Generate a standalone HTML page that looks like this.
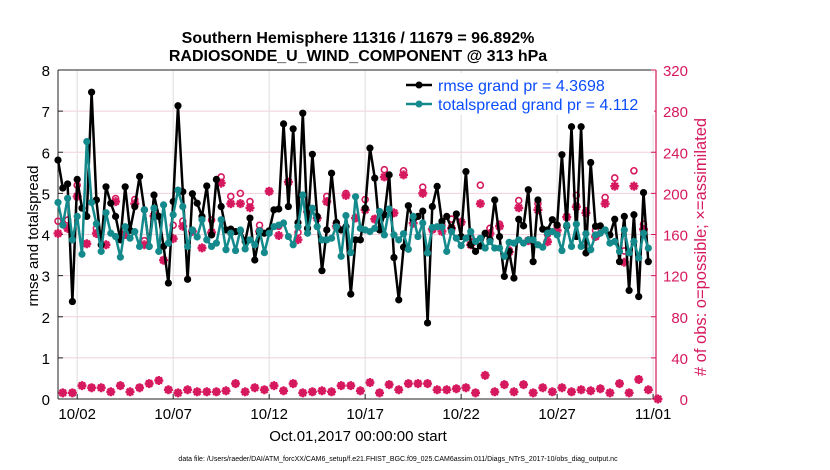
<!DOCTYPE html>
<html><head><meta charset="utf-8">
<style>
html,body{margin:0;padding:0;background:#fff;}
svg{display:block;font-family:"Liberation Sans",Arial,sans-serif;}
</style></head>
<body>
<svg id="chart" width="830" height="470" viewBox="0 0 830 470" xmlns="http://www.w3.org/2000/svg">
<rect width="830" height="470" fill="#fff"/>
<text x="358" y="43" text-anchor="middle" font-size="16" font-weight="bold">Southern Hemisphere 11316 / 11679 = 96.892%</text>
<text x="358" y="61" text-anchor="middle" font-size="16" font-weight="bold">RADIOSONDE_U_WIND_COMPONENT @ 313 hPa</text>
<g id="grid"></g>
<g id="axes"></g>
<g id="marks"></g>
<text transform="translate(38,236) rotate(-90)" text-anchor="middle" font-size="15">rmse and totalspread</text>
<text transform="translate(706,247) rotate(-90)" text-anchor="middle" font-size="16.5" fill="#d6185e"># of obs: o=possible; ×=assimilated</text>
<text x="358" y="441" text-anchor="middle" font-size="15">Oct.01,2017 00:00:00 start</text>
<text x="398" y="461" text-anchor="middle" font-size="7">data file: /Users/raeder/DAI/ATM_forcXX/CAM6_setup/f.e21.FHIST_BGC.f09_025.CAM6assim.011/Diags_NTrS_2017-10/obs_diag_output.nc</text>
<g>
<rect x="400" y="73" width="254" height="42" fill="#fff"/>
<line x1="406" y1="85" x2="432" y2="85" stroke="#000" stroke-width="2.5"/>
<circle cx="419" cy="85" r="3.5" fill="#000"/>
<text x="438" y="91" font-size="16" fill="#0a4dff">rmse grand pr = 4.3698</text>
<line x1="406" y1="104" x2="432" y2="104" stroke="#148a8c" stroke-width="2.5"/>
<circle cx="419" cy="104" r="3.5" fill="#148a8c"/>
<text x="438" y="110" font-size="16" fill="#0a4dff">totalspread grand pr = 4.112</text>
</g>
</svg>
<script>
const rmse = [5.81,5.13,5.23,2.37,5.34,4.64,4.44,7.46,4.84,3.75,5.16,4.76,4.44,3.87,5.16,4.1,4.68,5.41,4.6,3.71,4.96,4.44,3.71,2.82,4.8,7.13,5.04,2.91,4.99,4.76,4.44,5.18,
3.99,5.34,4.68,4.11,4.13,4.07,4.09,3.83,4.4,3.38,4.03,4.03,4.09,4.6,4.62,6.69,4.68,6.57,4.29,6.95,4.15,5.95,4.44,3.12,4.11,5.49,4.29,4.11,4.19,2.55,3.87,
3.87,4.64,6.1,5.37,4.11,4.48,5.45,3.44,2.41,3.69,4.7,4.36,4.44,4.57,1.85,4.68,5.17,4.32,4.44,4.15,4.5,3.95,5.53,3.75,3.59,3.72,4.03,3.87,4.84,3.95,2.98,
3.59,2.94,4.37,4.21,5.09,3.34,4.84,4.13,4.11,4.36,4.23,5.94,4.2,6.62,3.95,6.62,3.55,5.75,4.2,4.21,4.11,3.99,4.37,3.34,4.44,2.64,4.48,2.49,5.02,3.34];
const spread = [4.78,4.23,4.88,3.87,4.44,3.52,6.26,4.78,4.26,3.59,4.53,4.03,3.95,3.45,4.19,3.91,4.07,3.71,4.6,3.71,4.64,3.59,4.72,3.79,4.48,5.08,4.68,3.71,4.11,3.94,4.36,3.87,
3.71,3.79,4.36,3.63,4.03,3.61,4.11,3.65,3.87,3.75,4.09,3.56,4.03,4.19,4.23,4.28,3.95,3.75,4.19,4.96,4.03,4.64,4.19,3.87,3.87,3.91,4.19,3.47,4.46,3.56,4.92,
4.15,4.11,4.07,4.15,4.56,3.99,4.62,3.99,3.87,4.02,3.64,4.44,3.95,4.28,3.55,4.17,4.19,4.18,3.59,4.07,3.91,3.73,3.91,4.07,3.83,3.91,3.67,3.83,3.67,3.67,3.47,
3.81,3.79,3.87,3.79,3.87,3.87,3.75,3.69,4.03,4.07,3.99,3.61,4.23,3.71,4.25,3.71,4.02,3.63,3.99,4.03,4.11,3.79,3.83,3.59,4.11,3.55,3.83,3.43,4.03,3.67];
const obsUsed = [161,166,197,151,161,150,192,160,190,150,178,135,156,168,163,147,
162,210,190,190,186,163,202,159,211,155,182,176,192,168,198,176,
184,175,216,181,218,171,200,165,163,166,172,150,190,161,168,
143,186,154,184,153,164,177,187,181,158,190,207,133,207,165];
const obsPossible = [173,174,208,151,166,150,195,160,194,154,178,135,169,173,164,147,
174,216,197,200,192,169,202,168,211,162,182,176,197,171,200,176,
194,175,223,181,222,176,206,165,169,175,172,158,208,166,170,
145,193,154,190,160,169,177,198,183,164,196,215,144,222,170];
const obsOff = [6,6,13,11,11,7,13,7,11,15,18,9,6,9,7,7,
7,8,15,7,11,9,13,8,15,6,7,8,7,13,13,
8,16,6,14,9,15,15,15,9,9,10,11,6,23,7,14,
7,14,6,11,7,11,7,9,8,10,6,15,6,19,9,0];
const xTickLabels = ["10/02","10/07","10/12","10/17","10/22","10/27","11/01"];
const xTickDays = [1,6,11,16,21,26,31];
const yLeftTicks = [0,1,2,3,4,5,6,7,8];
const yRightTicks = [0,40,80,120,160,200,240,280,320];

const NS="http://www.w3.org/2000/svg";
const X0=58, X1=656, Y0=399, Y1=70, DMAX=31.15;
const xS = d => X0 + d/DMAX*(X1-X0);
const yL = v => Y0 - v/8*(Y0-Y1);
const yR = v => Y0 - v/320*(Y0-Y1);
const PINK="#d6185e", TEAL="#148a8c";
function mk(tag, attrs, parent){const e=document.createElementNS(NS,tag);for(const k in attrs)e.setAttribute(k,attrs[k]);parent.appendChild(e);return e;}
const grid=document.getElementById('grid'), axes=document.getElementById('axes'), marks=document.getElementById('marks');

yRightTicks.forEach(v=>{
  const g=mk('line',{x1:X0,x2:X1,y1:yR(v),y2:yR(v),stroke:'#f2cfdc','stroke-width':1},grid);
  
  
});
xTickDays.forEach(d=>{
  const g=mk('line',{x1:xS(d),x2:xS(d),y1:Y1,y2:Y0,stroke:'#dcdcdc','stroke-width':1},grid);
  
  
});
const fr=mk('path',{d:`M${X0},${Y1}H${X1}M${X0},${Y0}H${X1}M${X0},${Y1}V${Y0}`,stroke:'#222',fill:'none','stroke-width':1},axes);


const ra=mk('line',{x1:X1,x2:X1,y1:Y1,y2:Y0,stroke:PINK,'stroke-width':1.2},axes);


yLeftTicks.forEach(v=>{
  mk('line',{x1:X0,x2:X0+5,y1:yL(v),y2:yL(v),stroke:'#222'},axes);
  const t=mk('text',{x:X0-8,y:yL(v)+6,'text-anchor':'end','font-size':15},axes);
  t.textContent=v;
  
  
});
yRightTicks.forEach(v=>{
  mk('line',{x1:X1-5,x2:X1,y1:yR(v),y2:yR(v),stroke:PINK},axes);
  const t=mk('text',{x:688,y:yR(v)+6,'text-anchor':'end','font-size':15,fill:PINK},axes);
  t.textContent=v;
  
  
});
xTickDays.forEach((d,i)=>{
  mk('line',{x1:xS(d),x2:xS(d),y1:Y0,y2:Y0-5,stroke:'#222'},axes);
  const t=mk('text',{x:xS(d),y:Y0+20,'text-anchor':'middle','font-size':15},axes);
  t.textContent=xTickLabels[i];
  
  
});

function star(cx,cy,parent){
  const r=4.5;let d='';
  for(let k=0;k<4;k++){const a=k*Math.PI/4;d+=`M${cx-r*Math.cos(a)},${cy-r*Math.sin(a)}L${cx+r*Math.cos(a)},${cy+r*Math.sin(a)}`;}
  return mk('path',{d:d,stroke:PINK,'stroke-width':2.4,fill:'none'},parent);
}
obsPossible.forEach((v,i)=>{
  const c=mk('circle',{cx:xS(i*0.5),cy:yR(v),r:3,fill:'none',stroke:PINK,'stroke-width':1.6},marks);
  
  
});
obsUsed.forEach((v,i)=>{
  const s=star(xS(i*0.5),yR(v),marks);
  
  
});
obsOff.forEach((v,i)=>{
  const d=0.25+i*0.5;
  const c=mk('circle',{cx:xS(d),cy:yR(v),r:3,fill:PINK,stroke:PINK,'stroke-width':1.6},marks);
  
  
  const s=star(xS(d),yR(v),marks);
  
  
});
function series(vals,color,name){
  const pts=vals.map((v,i)=>`${xS(i*0.25).toFixed(1)},${yL(v).toFixed(1)}`).join(' ');
  const pl=mk('polyline',{points:pts,fill:'none',stroke:color,'stroke-width':2.5,'stroke-linejoin':'round'},marks);
  
  
  vals.forEach((v,i)=>{
    const c=mk('circle',{cx:xS(i*0.25),cy:yL(v),r:3.6,fill:color},marks);
    
    
  });
}
series(rmse,'#000','rmse');
series(spread,TEAL,'totalspread');
</script>
</body></html>
